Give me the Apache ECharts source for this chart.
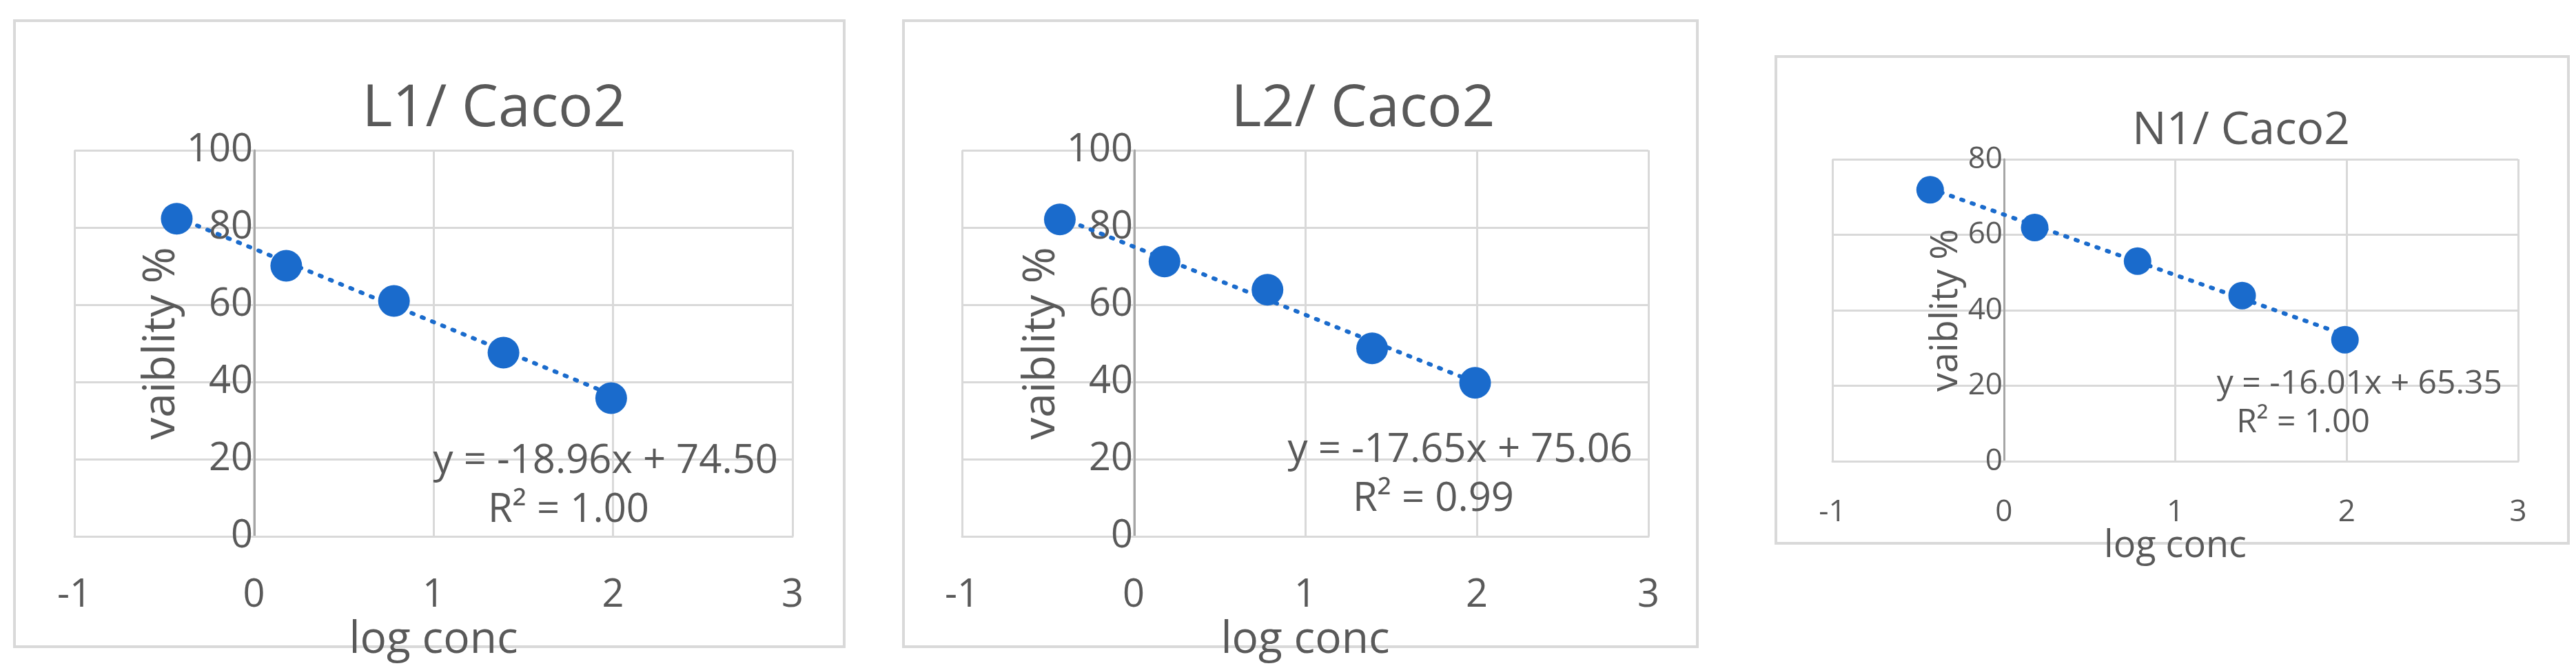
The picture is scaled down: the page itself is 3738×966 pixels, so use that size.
<!DOCTYPE html>
<html><head><meta charset="utf-8">
<script src="https://cdn.jsdelivr.net/npm/echarts@6/dist/echarts.min.js"></script>
<style>html,body{margin:0;padding:0;background:#fff}#c{width:3738px;height:966px}</style>
</head><body><div id="c"></div>
<script>
const titles = ['L1/ Caco2', 'L2/ Caco2', 'N1/ Caco2'];
const logConc = [-0.43, 0.18, 0.78, 1.39, 1.99];
const viabL1 = [82.3, 70.1, 61.0, 47.6, 35.8];
const viabL2 = [82.1, 71.2, 63.9, 48.7, 39.8];
const viabN1 = [71.9, 61.9, 53.0, 43.9, 32.2];
const slopes = [-18.96, -17.65, -16.01];
const intercepts = [74.50, 75.06, 65.35];
const r2 = ['1.00', '0.99', '1.00'];
const yMax = [100, 100, 80];
const xTicks = [-1, 0, 1, 2, 3];
const series = [viabL1, viabL2, viabN1];

const grids = [
  {left:108, top:218, width:1042, height:565},
  {left:1396, top:218, width:996, height:565},
  {left:2659, top:231, width:995, height:438}
];
const yOff = [-261, -250, -249];
const frames = [[21,30,1204,908],[1311,30,1152,908],[2577,82,1150,706]];
const fs = [56, 56, 44];
const txt = '#595959', grid = '#d9d9d9', blue = '#1a6bcc';
const font = 'Open Sans';

const opt = {animation:false, backgroundColor:'#fff',
  title: titles.map((t,i)=>({text:t, left:[712,1973,3247][i], top:[112,112,152][i], textAlign:'center',
    textStyle:{fontFamily:font, fontWeight:'normal', fontSize:[84,84,66][i], color:txt}})),
  grid: grids, xAxis:[], yAxis:[], series:[], graphic:[]};

grids.forEach((g,i)=>{
  opt.xAxis.push({type:'value', gridIndex:i, min:xTicks[0], max:xTicks[xTicks.length-1], interval:1,
    name:'log conc', nameLocation:'middle', nameGap:i==2?78:100,
    nameTextStyle:{fontFamily:font, fontSize:i==2?54:64, color:txt},
    axisLine:{show:true, lineStyle:{color:grid, width:3}}, axisTick:{show:false},
    splitLine:{show:true, lineStyle:{color:grid, width:3}},
    axisLabel:{fontFamily:font, fontSize:fs[i], color:txt, margin:i==2?52:58}});
  opt.yAxis.push({type:'value', gridIndex:i, min:0, max:yMax[i], interval:20, offset:yOff[i],
    name:'vaiblity %', nameLocation:'middle', nameGap:i==2?24:32, nameRotate:90,
    nameTextStyle:{fontFamily:font, fontSize:i==2?54:64, color:txt},
    axisLine:{show:true, onZero:false, lineStyle:{color:'#a6a6a6', width:3}}, axisTick:{show:false},
    splitLine:{show:true, lineStyle:{color:grid, width:3}},
    axisLabel:{fontFamily:font, fontSize:fs[i], color:txt, margin:2}});
  const x0 = logConc[0], x1 = logConc[logConc.length-1];
  opt.series.push({type:'line', xAxisIndex:i, yAxisIndex:i, symbol:'none', silent:true,
    data:[[x0, slopes[i]*x0+intercepts[i]],[x1, slopes[i]*x1+intercepts[i]]],
    lineStyle:{color:blue, width:6, type:[3,13], cap:'round'}, z:2});
  opt.series.push({type:'scatter', xAxisIndex:i, yAxisIndex:i, symbolSize:i==2?40:46,
    data:logConc.map((x,k)=>[x, series[i][k]]), itemStyle:{color:blue, opacity:1}, z:3});
  const f = frames[i];
  opt.graphic.push({type:'rect', shape:{x:f[0], y:f[1], width:f[2], height:f[3]}, z:-10,
    style:{fill:'none', stroke:'#d9d9d9', lineWidth:4}});
});
const eq = [[1129,669,825,740,58],[2369,653,2080,724,58],[3631,557,3342,613,48]];
eq.forEach((e,i)=>{
  opt.graphic.push({type:'text', x:e[0], y:e[1], z:10, style:{text:'y = '+slopes[i].toFixed(2)+'x + '+intercepts[i].toFixed(2),
    fontFamily:font, fontSize:e[4], fill:txt, textAlign:'right', textVerticalAlign:'middle'}});
  opt.graphic.push({type:'text', x:e[2], y:e[3], z:10, style:{text:'R² = '+r2[i],
    fontFamily:font, fontSize:e[4], fill:txt, textAlign:'center', textVerticalAlign:'middle'}});
});
echarts.init(document.getElementById('c')).setOption(opt);
</script></body></html>
